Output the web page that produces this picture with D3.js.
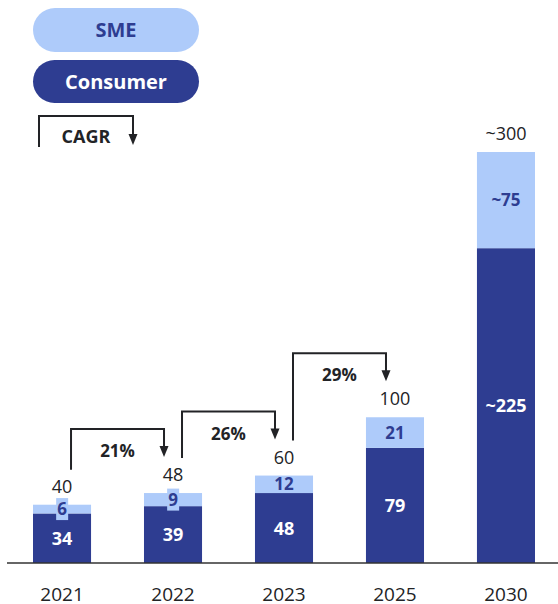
<!DOCTYPE html>
<html><head><meta charset="utf-8">
<script src="https://cdn.jsdelivr.net/npm/d3@7"></script>
<style>
html,body{margin:0;padding:0;background:#fff;}
svg{display:block;font-family:"Open Sans",Roboto,sans-serif;}
</style></head>
<body><svg id="c" width="558" height="604"></svg>
<script>
const years = ["2021","2022","2023","2025","2030"];
const consumer = [34, 39, 48, 79, 216];
const sme = [6, 9, 12, 21, 66];
const consumerLabels = ["34","39","48","79","~225"];
const smeLabels = ["6","9","12","21","~75"];
const totalLabels = ["40","48","60","100","~300"];
const cagrFrom = ["2021","2022","2023"];
const cagrTo = ["2022","2023","2025"];
const cagrLabels = ["21%","26%","29%"];

const DARK = "#2E3D91", LIGHT = "#AECBFA", INK = "#222326";
const svg = d3.select("#c");
const base = 563;

const x = d3.scaleBand().domain(years).range([33, 535]).paddingInner(0.477).paddingOuter(0);
const totals = consumer.map((c,i)=>c+sme[i]);
const y = d3.scaleLinear().domain([0, d3.max(totals)]).range([base, 152]);
const bw = x.bandwidth();
const cx = yr => x(yr) + bw/2;

const data = years.map((yr,i)=>({yr, c:consumer[i], s:sme[i], t:totals[i], cl:consumerLabels[i], sl:smeLabels[i], tl:totalLabels[i]}));

// bars
const g = svg.append("g");
g.selectAll("rect.c").data(data).join("rect").attr("class","c")
  .attr("x", d=>x(d.yr)).attr("width", bw)
  .attr("y", d=>y(d.c)).attr("height", d=>base - y(d.c)).attr("fill", DARK);
g.selectAll("rect.s").data(data).join("rect").attr("class","s")
  .attr("x", d=>x(d.yr)).attr("width", bw)
  .attr("y", d=>y(d.t)).attr("height", d=>y(d.c) - y(d.t)).attr("fill", LIGHT);

// axis
const xAxis = d3.axisBottom(x).tickSize(0).tickPadding(0);
const ax = svg.append("g").attr("transform", `translate(0,${base})`).call(xAxis);
ax.select(".domain").remove();
ax.selectAll("text").attr("font-size", 19).attr("fill", INK).attr("dy", null).attr("y", 38)
  .attr("font-family", "'Open Sans',Roboto,sans-serif");
svg.append("line").attr("x1", 7).attr("x2", 558).attr("y1", base).attr("y2", base)
  .attr("stroke", "#333").attr("stroke-width", 1.6);

// consumer labels
g.selectAll("text.cl").data(data).join("text").attr("class","cl")
  .attr("x", d=>cx(d.yr)).attr("y", d=>(y(d.c)+base)/2)
  .attr("dy","0.36em").attr("text-anchor","middle")
  .attr("font-size",18).attr("font-weight",700).attr("fill","#fff").text(d=>d.cl);

// sme labels with background when segment thin
const sl = g.selectAll("g.sl").data(data).join("g").attr("class","sl");
sl.each(function(d){
  const gg = d3.select(this);
  const my = (y(d.t)+y(d.c))/2;
  const t = gg.append("text").attr("x", cx(d.yr)).attr("y", my).attr("dy","0.36em")
    .attr("text-anchor","middle").attr("font-size",17).attr("font-weight",700)
    .attr("fill", DARK).text(d.sl);
  if (y(d.c) - y(d.t) < 16) {
    const bb = t.node().getBBox();
    gg.insert("rect","text").attr("x", bb.x-1).attr("width", bb.width+2)
      .attr("y", my-11).attr("height", 22).attr("fill", LIGHT);
  }
});

// total labels
g.selectAll("text.tl").data(data).join("text").attr("class","tl")
  .attr("x", d=>cx(d.yr)).attr("y", d=>y(d.t)-12)
  .attr("text-anchor","middle").attr("font-size",18).attr("fill", INK).text(d=>d.tl);

// CAGR arrows
const totalOf = yr => totals[years.indexOf(yr)];
function arrowDown(sel, xt, yt){
  sel.append("path").attr("d", `M${xt-4.5},${yt-11}L${xt+4.5},${yt-11}L${xt},${yt}Z`).attr("fill", INK);
}
cagrFrom.forEach((f,i)=>{
  const t = cagrTo[i];
  const x0 = cx(f)+9, x1 = cx(t)-9;
  const yb = y(totalOf(f)) - 35;
  const tip = y(totalOf(t)) - 36;
  const top = tip - 28;
  svg.append("path").attr("d", `M${x0},${yb}V${top}H${x1}V${tip-8}`)
    .attr("fill","none").attr("stroke", INK).attr("stroke-width", 2);
  arrowDown(svg, x1, tip);
  svg.append("text").attr("x",(x0+x1)/2).attr("y", top+28).attr("text-anchor","middle")
    .attr("font-size",17).attr("font-weight",700).attr("fill",INK).text(cagrLabels[i]);
});

// legend
const leg = svg.append("g");
[["SME", LIGHT, DARK, 8, 44], ["Consumer", DARK, "#fff", 60, 43]].forEach(([lab, fill, tc, yy, h])=>{
  leg.append("rect").attr("x",33).attr("y",yy).attr("width",166).attr("height",h).attr("rx",h/2).attr("fill",fill);
  leg.append("text").attr("x",116).attr("y",yy+h/2).attr("dy","0.36em").attr("text-anchor","middle")
    .attr("font-size",20).attr("font-weight",700).attr("fill",tc).text(lab);
});
leg.append("path").attr("d","M39,147V116H133V137").attr("fill","none").attr("stroke",INK).attr("stroke-width",2);
arrowDown(leg, 133, 145);
leg.append("text").attr("x",86).attr("y",143).attr("text-anchor","middle")
  .attr("font-size",18).attr("font-weight",700).attr("fill",INK).text("CAGR");
</script></body></html>
